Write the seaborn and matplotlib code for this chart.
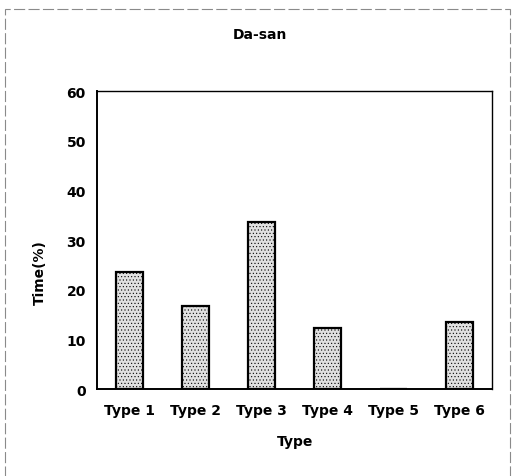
import numpy as np
import pandas as pd
import matplotlib
matplotlib.use('Agg')
import matplotlib.pyplot as plt
import seaborn as sns
from matplotlib.patches import Rectangle
from matplotlib.ticker import MultipleLocator

# data
types = ['Type 1', 'Type 2', 'Type 3', 'Type 4', 'Type 5', 'Type 6']
times = [23.6, 16.8, 33.7, 12.4, 0.0, 13.5]

df = pd.DataFrame({'Type': types, 'Time': times})

sns.set_style('white')
plt.rcParams['font.family'] = ['DejaVu Sans']
plt.rcParams['hatch.linewidth'] = 0.4
plt.rcParams['text.color'] = 'black'
plt.rcParams['xtick.color'] = 'black'
plt.rcParams['ytick.color'] = 'black'

fig = plt.figure(figsize=(5.13, 4.77), dpi=100)
ax = fig.add_axes([0.189, 0.182, 0.770, 0.625])

sns.barplot(data=df, x='Type', y='Time', ax=ax, width=0.41,
            color='#e0e0e0', edgecolor='black', linewidth=1.6,
            saturation=1, hatch='.....')

ax.set_ylim(0, 60)
ax.set_xlim(-0.5, 5.5)
ax.yaxis.set_major_locator(MultipleLocator(10))
ax.yaxis.set_minor_locator(MultipleLocator(2))
ax.tick_params(axis='y', which='major', length=0, pad=8, labelsize=10)
ax.tick_params(axis='y', which='minor', length=2, direction='in', width=0.6)
ax.tick_params(axis='x', length=0, pad=10, labelsize=10)
for lab in ax.get_xticklabels() + ax.get_yticklabels():
    lab.set_fontweight('bold')

for side in ['left', 'bottom']:
    ax.spines[side].set_linewidth(1.4)
for side in ['top', 'right']:
    ax.spines[side].set_linewidth(1.0)
for s in ax.spines.values():
    s.set_color('black')

ax.set_xlabel('')
ax.set_ylabel('')
fig.text(0.506, 0.926, 'Da-san', ha='center', va='center',
         fontsize=10, fontweight='bold')
fig.text(0.576, 0.073, 'Type', ha='center', va='center',
         fontsize=10, fontweight='bold')
fig.text(0.078, 0.428, 'Time(%)', ha='center', va='center', rotation=90,
         fontsize=10, fontweight='bold')

# dashed frame around the figure
fig.patches.append(Rectangle((0.010, -0.05), 0.984, 1.029, transform=fig.transFigure,
                             fill=False, edgecolor='#8a8a8a', linewidth=0.8,
                             linestyle=(0, (10, 3))))

fig.savefig('out.png', dpi=100)
